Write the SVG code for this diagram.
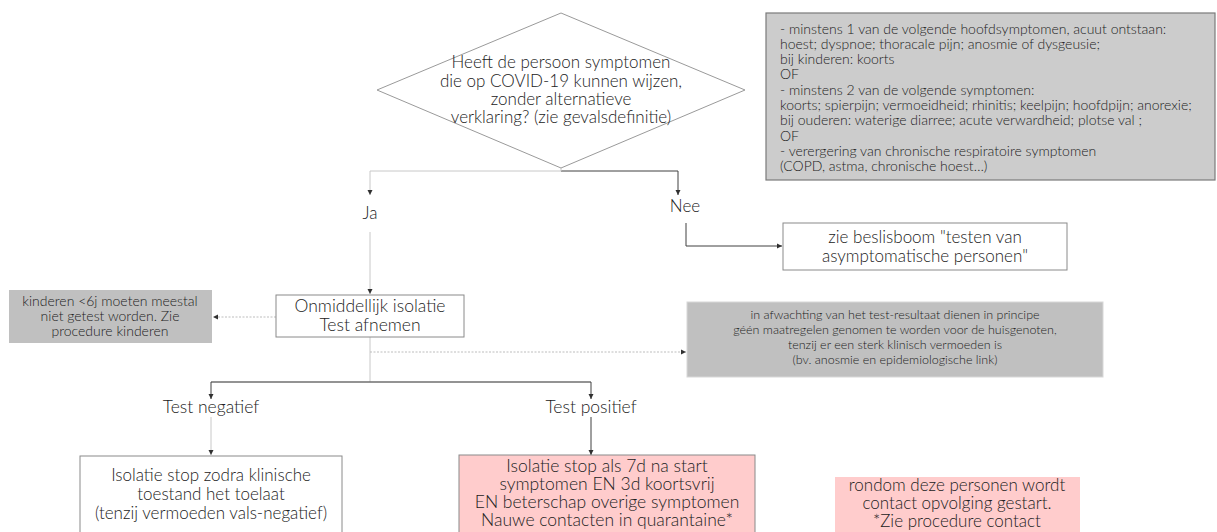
<svg xmlns="http://www.w3.org/2000/svg" width="1217" height="532" viewBox="0 0 1217 532">
<style>
text{font-family:Lato,"Liberation Sans",sans-serif;font-weight:300;fill:#222222}
.c{text-anchor:middle}
.big{font-size:17px}
.b18{font-size:17.5px}
.dia{font-size:17px}
.sm{font-size:14px}
.note{font-size:14px}
.note2{font-size:12.5px}
.lite{fill:none;stroke:#c8c8c8;stroke-width:1}
.dark{fill:none;stroke:#404040;stroke-width:1}
.bar{fill:none;stroke:#6f6f6f;stroke-width:1.6}
.dash{fill:none;stroke:#bdbdbd;stroke-width:1;stroke-dasharray:2 1.5}
</style>
<defs>
<marker id="ah" markerWidth="6" markerHeight="6" refX="5" refY="3" orient="auto" markerUnits="userSpaceOnUse"><path d="M0,0.5 L5,3 L0,5.5 z" fill="#303030"/></marker>
</defs>
<rect width="1217" height="532" fill="#ffffff"/>
<g id="connectors">
<path class="lite" d="M561,171 H370 V195" marker-end="url(#ah)"/>
<path class="dark" d="M561,171 H678 V195" marker-end="url(#ah)"/>
<path class="lite" d="M561,168 V171"/>
<path class="lite" d="M370,232 V294" marker-end="url(#ah)"/>
<path class="dark" d="M686,223 V246 H782" marker-end="url(#ah)"/>
<path class="dash" d="M276,317 H213" marker-end="url(#ah)"/>
<path class="lite" d="M370,337 V382"/>
<path class="dash" d="M370,352 H686" marker-end="url(#ah)"/>
<path class="bar" d="M211,382 H591"/>
<path class="dark" d="M211,382 V399" marker-end="url(#ah)"/>
<path class="dark" d="M591,382 V399" marker-end="url(#ah)"/>
<path class="lite" d="M211,417 V455" marker-end="url(#ah)"/>
<path class="dark" d="M591,417 V455" marker-end="url(#ah)"/>
</g>
<g id="decision">
<polygon points="561,13 745,90 561,168 377,90" fill="#ffffff" stroke="#9a9a9a" stroke-width="1"/>
<text class="c dia" x="561" y="68">Heeft de persoon symptomen</text>
<text class="c dia" x="561" y="87">die op COVID-19 kunnen wijzen,</text>
<text class="c dia" x="561" y="105">zonder alternatieve</text>
<text class="c dia" x="561" y="123">verklaring? (zie gevalsdefinitie)</text>
</g>
<g id="definition">
<rect x="766" y="13" width="449" height="167" fill="#cccccc" stroke="#7a7a7a" stroke-width="1.2"/>
<text class="sm" x="780" y="34">- minstens 1 van de volgende hoofdsymptomen, acuut ontstaan:</text>
<text class="sm" x="780" y="49">hoest; dyspnoe; thoracale pijn; anosmie of dysgeusie;</text>
<text class="sm" x="780" y="64">bij kinderen: koorts</text>
<text class="sm" x="780" y="79">OF</text>
<text class="sm" x="780" y="95">- minstens 2  van de volgende symptomen:</text>
<text class="sm" x="780" y="110">koorts; spierpijn; vermoeidheid; rhinitis; keelpijn; hoofdpijn; anorexie;</text>
<text class="sm" x="780" y="125">bij ouderen: waterige diarree; acute verwardheid; plotse val ;</text>
<text class="sm" x="780" y="141">OF</text>
<text class="sm" x="780" y="156">- verergering van chronische respiratoire symptomen</text>
<text class="sm" x="780" y="171">(COPD, astma, chronische hoest…)</text>
</g>
<g id="label-ja"><text class="c big" x="370" y="219">Ja</text></g>
<g id="label-nee"><text class="c big" x="685" y="212">Nee</text></g>
<g id="asymptomatic">
<rect x="783" y="223" width="284" height="47" fill="#ffffff" stroke="#8a8a8a" stroke-width="1"/>
<text class="c big" x="925" y="243">zie beslisboom "testen van</text>
<text class="c big" x="925" y="262">asymptomatische personen"</text>
</g>
<g id="isolation">
<rect x="276" y="295" width="188" height="42" fill="#ffffff" stroke="#8a8a8a" stroke-width="1"/>
<text class="c b18" x="370" y="312">Onmiddellijk isolatie</text>
<text class="c b18" x="370" y="331">Test afnemen</text>
</g>
<g id="children">
<rect x="9" y="290" width="203" height="53" fill="#c0c0c0"/>
<text class="c note" x="110" y="306">kinderen &lt;6j moeten meestal</text>
<text class="c note" x="110" y="321">niet getest worden. Zie</text>
<text class="c note" x="110" y="336">procedure kinderen</text>
</g>
<g id="waiting">
<rect x="687" y="302" width="416" height="75" fill="#c0c0c0" stroke="#d8d8d8" stroke-width="1"/>
<text class="c note2" x="895" y="319">in afwachting van het test-resultaat dienen in principe</text>
<text class="c note2" x="895" y="334">géén maatregelen genomen te worden voor de huisgenoten,</text>
<text class="c note2" x="895" y="349">tenzij er een sterk klinisch vermoeden is</text>
<text class="c note2" x="895" y="364">(bv. anosmie en epidemiologische link)</text>
</g>
<g id="label-neg"><text class="c b18" x="211" y="413">Test negatief</text></g>
<g id="label-pos"><text class="c b18" x="591" y="413">Test positief</text></g>
<g id="negative">
<rect x="80" y="456" width="262" height="90" fill="#ffffff" stroke="#8a8a8a" stroke-width="1"/>
<text class="c big" x="211" y="481">Isolatie stop zodra klinische</text>
<text class="c big" x="211" y="500">toestand het toelaat</text>
<text class="c big" x="211" y="519">(tenzij vermoeden vals-negatief)</text>
</g>
<g id="positive">
<rect x="459" y="455" width="296" height="90" fill="#ffcccc" stroke="#8a8a8a" stroke-width="1"/>
<text class="c b18" x="607" y="472">Isolatie stop als 7d na start</text>
<text class="c b18" x="607" y="490">symptomen EN 3d koortsvrij</text>
<text class="c b18" x="607" y="508">EN beterschap overige symptomen</text>
<text class="c b18" x="607" y="526">Nauwe contacten in quarantaine*</text>
</g>
<g id="contact">
<rect x="835" y="477" width="245" height="70" fill="#ffcccc"/>
<text class="c big" x="957" y="491">rondom deze personen wordt</text>
<text class="c big" x="957" y="509">contact opvolging gestart.</text>
<text class="c big" x="957" y="527">*Zie procedure contact</text>
</g>
</svg>
